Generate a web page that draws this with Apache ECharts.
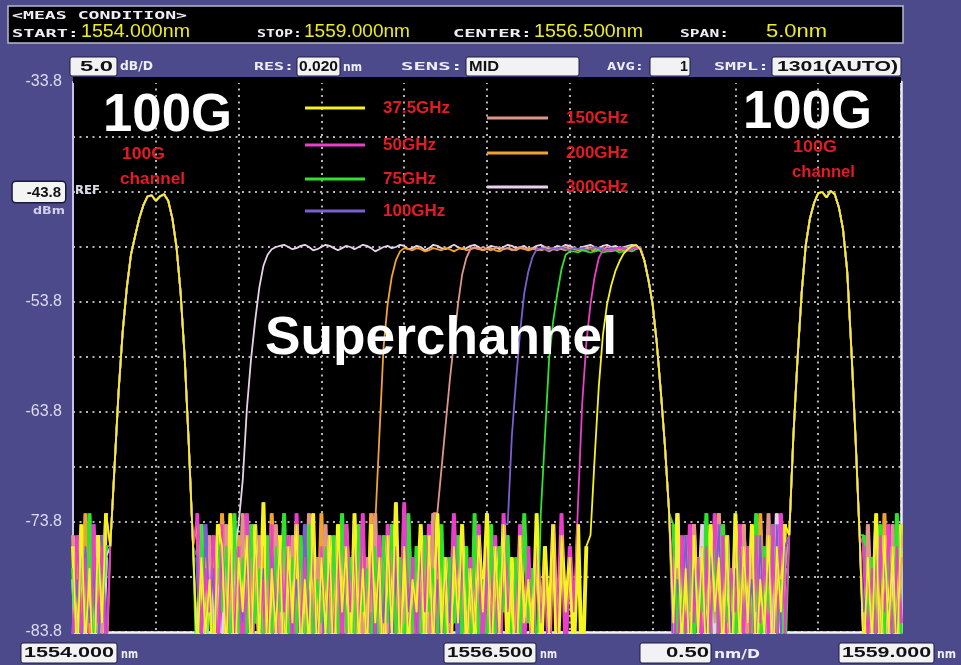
<!DOCTYPE html>
<html><head><meta charset="utf-8">
<script src="https://cdn.jsdelivr.net/npm/echarts@6/dist/echarts.min.js"></script>
<style>html,body{margin:0;padding:0;background:#4d4a8b;}#c{width:961px;height:665px;}</style>
</head><body><div id="c"></div>
<script>
// ---- instrument settings ----
const START_NM = 1554.0, STOP_NM = 1559.0, STEP_NM = 0.025;
const Y_MIN = -83.8, Y_MAX = -33.8, Y_DIV = 5, X_DIV = 0.5;
const Y_TICK_LABELS = ['-83.8','','-73.8','','-63.8','','-53.8','','-43.8','','-33.8'];
const REF_LABEL = '-43.8';
const HEADER_TITLE = '<MEAS CONDITION>';
const HEADER_LABELS = ['START:','STOP:','CENTER:','SPAN:'];
const HEADER_VALUES = ['1554.000nm','1559.000nm','1556.500nm','5.0nm'];
const SETTING_LABELS = ['RES:','SENS:','AVG:','SMPL:'];
const SETTING_VALUES = ['5.0','0.020','MID','1','1301(AUTO)'];
const SETTING_UNITS = ['dB/D','nm'];
const X_BOX_LABELS = ['1554.000','1556.500','0.50','1559.000'];
const X_BOX_UNITS = ['nm','nm','nm/D','nm'];

// ---- traces (drawn back to front) ----
const SERIES_NAMES  = ['300GHz','200GHz','150GHz','100GHz','75GHz','50GHz','37.5GHz'];
const SERIES_COLORS = ['#e8d2ea','#f2a22e','#e0948a','#7c5ed2','#2ee22e','#ea3ecb','#f6f41e'];

// shared 100G channels and superchannel right edge (sample index starts)
const PEAK_L_START = 9;
const PEAK_L = [-76,-69,-62,-56.5,-52.5,-49.5,-47.8,-46.2,-45.0,-44.2,-44.1,-44.6,-44.2,-44.0,-44.6,-46.2,-48.8,-53,-59,-67,-76];
const PEAK_R_START = 173;
const PEAK_R = [-75,-66,-59,-53,-48.6,-46.2,-44.8,-43.9,-43.8,-44.3,-43.7,-44.0,-45.2,-47.2,-51,-58,-66,-75];
const EDGE_R_START = 138;
const EDGE_R = [-50.0,-51.8,-54,-57.5,-62,-67,-73];

const BAND_START = [40, 73, 88, 105, 113, 122, 125];
const BAND_300 = [-74,-70,-63.5,-59,-55.5,-52.5,-50.5,-49.5,-49.0,-48.8,
-48.7,-48.6,-48.8,-49.0,-48.9,-48.7,-48.6,-48.8,-49.1,-49.0,
-48.8,-48.6,-48.7,-48.9,-49.1,-48.9,-48.7,-48.8,-49.0,-48.8,
-48.6,-48.7,-48.9,-49.2,-49.0,-48.8,-48.7,-48.9,-48.8,-48.6,
-48.7,-49.0,-48.9,-48.7,-48.8,-49.1,-48.9,-48.6,-48.7,-48.9,
-49.0,-48.8,-48.6,-48.8,-49.0,-48.9,-48.7,-48.6,-48.8,-49.1,
-48.9,-48.7,-48.8,-49.0,-48.8,-48.6,-48.7,-48.9,-48.8,-48.7,
-49.0,-48.9,-48.7,-48.6,-48.8,-49.0,-48.9,-48.7,-48.8,-48.6,
-48.7,-48.9,-49.0,-48.8,-48.7,-48.6,-48.8,-48.9,-48.7,-48.6,
-48.8,-48.7,-48.9,-48.8,-48.7,-48.6,-48.7,-48.9];
const BAND_200 = [-74,-66,-58,-54,-51.5,-50,-49.2,-48.9,
-49.0,-49.1,-48.9,-49.0,-49.2,-49.1,-48.9,-49.0,-49.1,-48.9,
-49.0,-49.2,-49.0,-48.9,-49.1,-49.0,-48.8,-49.0,-49.1,-49.0,
-48.9,-49.1,-49.2,-49.0,-48.9,-49.0,-49.1,-48.9,-49.0,-49.1,
-49.0,-48.9,-49.1,-49.0,-49.2,-49.0,-48.9,-49.0,-49.1,-48.9,
-49.0,-49.1,-49.0,-48.9,-49.0,-49.2,-49.0,-48.9,-49.1,-49.0,
-48.9,-49.0,-49.1,-49.0,-48.9,-48.8,-48.8];
const BAND_150 = [-73,-69,-65,-61,-57.5,-54,-51.3,-49.8,-49.0,
-48.9,-49.0,-48.8,-49.0,-49.1,-48.9,-48.8,-49.0,-48.9,-49.1,
-49.0,-48.8,-48.9,-49.0,-48.9,-49.1,-49.0,-48.8,-48.9,-49.0,
-49.1,-48.9,-48.8,-49.0,-48.9,-49.0,-49.1,-48.9,-48.8,-49.0,
-48.9,-49.0,-48.8,-48.9,-49.0,-49.1,-48.9,-48.8,-48.9,-48.8,
-48.8];
const BAND_100 = [-74,-66,-61,-56.5,-53,-51,-49.7,-49.0,
-48.9,-49.0,-49.1,-48.9,-49.0,-48.8,-49.0,-49.1,-48.9,-49.0,
-48.9,-49.1,-49.0,-48.8,-48.9,-49.0,-49.1,-48.9,-49.0,-48.8,
-48.9,-49.0,-48.9,-48.8,-48.8];
const BAND_75 = [-73,-66,-59,-55.5,-53,-50.8,-49.5,-49.2,
-49.2,-49.3,-49.1,-49.2,-49.3,-49.2,-49.1,-49.3,-49.2,-49.2,-49.1,-49.3,-49.2,-49.1,-49.2,-49.0,-48.9];
const BAND_50 = [-72,-63,-57.5,-54,-51.5,-49.8,-49.1,
-49.0,-49.1,-49.0,-48.9,-49.0,-49.1,-49.0,-48.9,-48.9];
const BAND_375 = [-75,-68,-61.5,-56.8,-54,-52.3,-51,-50.1,-49.4,-49.0,-48.7,-48.6,-49.0];

// noise floor samples outside each trace's passbands (read in order along wavelength)
const NOISE_300 = [-79,-86,-76,-89,-78,-84,-75,-87,-77,-85,
-74,-88,-76,-83,-78,-86,-75,-90,-77,-84,
-73,-87,-76,-85,-79,-82,-74,-88,-77,-86,
-75,-84,-78,-87,-76,-83,-74,-89,-77,-85,
-75,-86,-78,-84,-73,-88,-76,-85,-77,-83,
-74,-87,-76,-86,-78,-84,-75,-88];
const NOISE_200 = [-87,-76,-84,-73,-86,-78,-83,-75,-89,-74,
-85,-77,-82,-76,-88,-73,-84,-79,-86,-75,
-83,-74,-87,-77,-85,-76,-90,-73,-84,-78,
-82,-75,-88,-74,-86,-77,-83,-76,-87,-73,
-85,-79,-84,-75,-89,-74,-82,-77,-86,-76,
-88,-73,-83,-78,-85,-75,-87,-74,-84,-76,
-90,-77,-82,-73,-86,-75,-88,-78,-83,-74,
-85,-76,-87,-73,-84,-77,-89,-75,-82,-74,
-86,-78,-83,-76,-88,-73,-85,-75,-84,-77,
-87];
const NOISE_150 = [-75,-86,-78,-83,-74,-88,-76,-85,-73,-87,
-77,-84,-75,-89,-78,-82,-74,-86,-76,-85,
-73,-88,-77,-83,-75,-87,-79,-84,-74,-86,
-76,-90,-75,-82,-78,-85,-73,-88,-77,-84,
-74,-86,-76,-83,-75,-87,-78,-85,-74,-89,
-77,-82,-73,-86,-76,-84,-75,-88,-79,-83,
-74,-87,-77,-85,-76,-90,-73,-84,-78,-86,
-75,-82,-74,-88,-77,-85,-76,-83,-73,-87,
-78,-84,-75,-86,-74,-89,-77,-82,-76,-85,
-73,-88,-75,-84,-78,-86,-74,-83,-77,-87,
-76,-85,-74,-88,-75,-83];
const NOISE_100 = [-84,-79,-87,-76,-83,-78,-89,-75,-85,-77,
-86,-74,-82,-78,-88,-76,-84,-75,-87,-79,
-83,-77,-90,-74,-85,-78,-86,-76,-82,-75,
-88,-77,-84,-79,-87,-74,-83,-76,-85,-78,
-89,-75,-86,-77,-82,-76,-88,-74,-84,-79,
-85,-76,-87,-78,-83,-75,-90,-77,-86,-74,
-82,-78,-85,-76,-88,-75,-84,-79,-87,-77,
-83,-74,-86,-76,-89,-78,-85,-75,-82,-77,
-88,-76,-84,-74,-87,-79,-83,-75,-86,-78,
-90,-76,-85,-77,-82,-74,-88,-75,-84,-78,
-86,-76,-83,-79,-87,-75,-85,-77,-89,-74,
-84,-76,-82,-78,-86,-75,-88,-77,-83,-76,
-85,-74,-87];
const NOISE_75 = [-78,-88,-75,-84,-73,-86,-77,-83,-76,-90,
-74,-85,-79,-87,-75,-82,-76,-88,-73,-84,
-77,-86,-74,-83,-78,-89,-75,-85,-76,-82,
-73,-87,-77,-84,-75,-88,-74,-86,-79,-83,
-76,-90,-75,-85,-73,-84,-77,-87,-74,-82,
-78,-86,-76,-88,-75,-83,-74,-85,-77,-89,
-73,-84,-76,-87,-75,-82,-78,-86,-74,-88,
-77,-83,-75,-85,-76,-90,-73,-84,-79,-87,
-74,-86,-76,-82,-75,-88,-77,-85,-73,-83,
-78,-87,-74,-84,-76,-89,-75,-86,-77,-82,
-73,-85,-76,-88,-74,-83,-78,-87,-75,-84,
-77,-86,-73,-90,-76,-82,-74,-85,-79,-88,
-75,-83,-77,-86,-74,-84,-76,-87,-73,-85,
-78];
const NOISE_50 = [-86,-75,-84,-77,-89,-74,-83,-76,-87,-73,
-85,-78,-82,-75,-88,-74,-86,-77,-84,-76,
-90,-73,-85,-75,-83,-79,-87,-74,-86,-76,
-82,-75,-88,-73,-84,-77,-85,-74,-89,-76,
-83,-78,-86,-75,-87,-74,-82,-76,-85,-73,
-88,-77,-84,-75,-90,-74,-83,-76,-86,-72,
-85,-77,-87,-75,-82,-74,-89,-76,-84,-78,
-86,-73,-83,-75,-88,-77,-85,-74,-87,-76,
-84,-75,-90,-73,-82,-78,-86,-74,-85,-76,
-88,-75,-83,-77,-87,-74,-84,-73,-86,-76,
-82,-79,-89,-75,-85,-74,-83,-77,-88,-76,
-84,-73,-86,-75,-87,-78,-82,-74,-85,-76,
-90,-75,-83,-77,-86,-74,-88,-73,-84,-76,
-85,-78,-87,-75,-82,-74,-89,-76,-83,-77];
const NOISE_375 = [-76,-87,-74,-85,-78,-90,-75,-83,-73,-86,
-77,-84,-79,-88,-74,-76,-86,-73,-89,-77,
-82,-75,-87,-74,-85,-72,-88,-78,-84,-75,
-90,-76,-83,-74,-86,-79,-85,-73,-87,-77,
-84,-75,-89,-74,-82,-76,-88,-73,-85,-78,
-86,-74,-83,-77,-90,-75,-84,-72,-87,-76,
-85,-79,-82,-74,-88,-75,-86,-73,-84,-77,
-89,-76,-83,-74,-87,-78,-85,-75,-82,-73,
-88,-76,-84,-74,-86,-77,-90,-75,-83,-79,
-85,-73,-87,-76,-84,-74,-88,-75,-82,-77,
-86,-74,-89,-76,-83,-73,-85,-78,-87,-75,
-84,-76,-88,-74,-82,-77,-86,-75,-90,-73,
-85,-76,-83,-74,-87,-79,-84,-75,-88,-76,
-82,-74,-86,-77,-85,-73,-89,-75,-84,-76,
-87,-74,-83];

const BANDS  = [BAND_300, BAND_200, BAND_150, BAND_100, BAND_75, BAND_50, BAND_375];
const NOISES = [NOISE_300, NOISE_200, NOISE_150, NOISE_100, NOISE_75, NOISE_50, NOISE_375];

// assemble one trace: full line data, and the same samples restricted to the noise floor
function buildTrace(bandStart, band, noise) {
  const n = Math.round((STOP_NM - START_NM) / STEP_NM) + 1;
  const line = [], floor = []; let k = 0;
  for (let i = 0; i < n; i++) {
    const x = +(START_NM + i * STEP_NM).toFixed(3);
    let v, isNoise = false;
    if (i >= PEAK_L_START && i < PEAK_L_START + PEAK_L.length) v = PEAK_L[i - PEAK_L_START];
    else if (i >= PEAK_R_START && i < PEAK_R_START + PEAK_R.length) v = PEAK_R[i - PEAK_R_START];
    else if (i >= bandStart && i < bandStart + band.length) v = band[i - bandStart];
    else if (i >= EDGE_R_START && i < EDGE_R_START + EDGE_R.length) v = EDGE_R[i - EDGE_R_START];
    else { v = noise[k++]; isNoise = true; }
    if (v === undefined) v = null;
    line.push([x, v]);
    floor.push([x, isNoise ? v : null]);
  }
  return { line: line, floor: floor };
}

// ---- layout helpers ----
const mctx = document.createElement('canvas').getContext('2d');
function fitText(text, x1, x2, yc, font, color, z) {
  mctx.font = font;
  const w = mctx.measureText(text).width || 1;
  return { type: 'text', x: x1, y: yc, scaleX: (x2 - x1) / w, z: z || 100, silent: true,
    style: { text: text, font: font, fill: color, align: 'left', verticalAlign: 'middle' } };
}
function box(x, y, w, h) {
  return { type: 'rect', z: 90, silent: true, shape: { x: x, y: y, width: w, height: h, r: 2 },
    style: { fill: '#f2f2f4', stroke: '#1c1c3a', lineWidth: 1 } };
}
const WHITE = '#eeeef6', YEL = '#ecec22', BLK = '#111', RED = '#e41b23';
const LBL = 'bold 11px DejaVu Sans Mono', NUM = '18px Liberation Sans', BOXF = 'bold 15px Liberation Sans';

const G = [];
// header band
G.push({ type: 'rect', z: 80, silent: true, shape: { x: 8, y: 6, width: 895, height: 37 }, style: { fill: '#000', stroke: '#b8b8d2', lineWidth: 1.5 } });
G.push(fitText(HEADER_TITLE, 12, 187, 16, LBL, WHITE));
const HL = [[12,79],[257,302],[453,532],[680,729]];
const HV = [[81,190],[304,410],[534,643],[766,827]];
HEADER_LABELS.forEach((t, i) => G.push(fitText(t, HL[i][0], HL[i][1], 34, LBL, WHITE)));
HEADER_VALUES.forEach((t, i) => G.push(fitText(t, HV[i][0], HV[i][1], 32, NUM, YEL)));
// settings row
const SB = [[70,47],[297,43],[466,113],[650,40],[772,129]];
const ST = [[80,113],[299,338],[469,499],[680,688],[777,898]];
SB.forEach((b) => G.push(box(b[0], 57, b[1], 19)));
SETTING_VALUES.forEach((t, i) => G.push(fitText(t, ST[i][0], ST[i][1], 67, BOXF, BLK, 95)));
const SL = [[254,294],[401,463],[607,644],[714,769]];
SETTING_LABELS.forEach((t, i) => G.push(fitText(t, SL[i][0], SL[i][1], 67, LBL, WHITE)));
G.push(fitText(SETTING_UNITS[0], 120, 153, 67, 'bold 12px DejaVu Sans', WHITE));
G.push(fitText(SETTING_UNITS[1], 343, 362, 68, 'bold 12px DejaVu Sans', WHITE));
// bottom readouts
const XB = [[21,96],[444,92],[640,71],[839,95]];
const XT = [[24,114],[447,533],[666,709],[842,931]];
const XU = [[121,138],[540,557],[714,760],[937,956]];
XB.forEach((b) => G.push(box(b[0], 643, b[1], 20)));
X_BOX_LABELS.forEach((t, i) => G.push(fitText(t, XT[i][0], XT[i][1], 653, BOXF, BLK, 95)));
X_BOX_UNITS.forEach((t, i) => G.push(fitText(t, XU[i][0], XU[i][1], 655, 'bold 12px DejaVu Sans', WHITE)));
// reference level captions
G.push(fitText('REF', 75, 100, 191, 'bold 12px DejaVu Sans', '#dcdce6'));
G.push(fitText('dBm', 33, 65, 211, 'bold 11px DejaVu Sans', '#d0d0ec'));
// extend plot black to top edge
G.push({ type: 'rect', z: 1, silent: true, shape: { x: 73, y: 77, width: 828, height: 6 }, style: { fill: '#000' } });
// annotations
G.push(fitText('100G', 103, 232, 116, 'bold 53px Liberation Sans', '#ffffff'));
G.push(fitText('100G', 743, 872, 113, 'bold 53px Liberation Sans', '#ffffff'));
G.push(fitText('Superchannel', 265, 617, 339, 'bold 54px Liberation Sans', '#ffffff'));
G.push(fitText('100G', 122, 165, 155, 'bold 16px Liberation Sans', RED));
G.push(fitText('channel', 120, 185, 180, 'bold 16px Liberation Sans', RED));
G.push(fitText('100G', 793, 837, 148, 'bold 16px Liberation Sans', RED));
G.push(fitText('channel', 792, 855, 173, 'bold 16px Liberation Sans', RED));

// legends (one per entry, two columns)
const LEG_POS = { '37.5GHz':[305,108,60], '50GHz':[305,145,60], '75GHz':[305,179,60], '100GHz':[305,211,60],
                  '150GHz':[487,118,61], '200GHz':[487,153,61], '300GHz':[487,187,61] };
const legends = Object.keys(LEG_POS).map((nm) => ({
  data: [nm], left: LEG_POS[nm][0], top: LEG_POS[nm][1] - 10, padding: 0, selectedMode: false,
  icon: 'rect', itemWidth: LEG_POS[nm][2], itemHeight: 3,
  textStyle: { color: RED, fontSize: 17, fontWeight: 'bold', fontFamily: 'Liberation Sans', lineHeight: 20, padding: [0,0,0,13] }
}));

const traces = SERIES_NAMES.map((nm, i) => buildTrace(BAND_START[i], BANDS[i], NOISES[i]));
// noise floor: the dense OSA sweep renders as thick vertical strokes, drawn beneath all trace lines
const floorSeries = SERIES_NAMES.map((nm, i) => ({
  type: 'line', name: nm + ' floor', data: traces[i].floor, connectNulls: false,
  color: SERIES_COLORS[i], showSymbol: false, symbol: 'none', silent: true, animation: false,
  lineStyle: { width: 3.9, color: SERIES_COLORS[i], join: 'bevel' }, z: 2, clip: true
}));
const lineSeries = SERIES_NAMES.map((nm, i) => ({
  type: 'line', name: nm, data: traces[i].line,
  color: SERIES_COLORS[i], showSymbol: false, symbol: 'none', silent: true, animation: false,
  lineStyle: { width: 1.8, color: SERIES_COLORS[i] }, z: 3, clip: true
}));

const dotted = { show: true, lineStyle: { color: '#b4b4b4', width: 2, type: [2, 4.5] } };
const option = {
  backgroundColor: '#4d4a8b',
  animation: false,
  grid: { left: 73, top: 82, width: 828, height: 550, show: true, backgroundColor: '#000', borderWidth: 0 },
  xAxis: { type: 'value', min: START_NM, max: STOP_NM, interval: X_DIV,
    axisLine: { show: true, onZero: false, lineStyle: { color: '#f2f2f6', width: 2.5 } },
    axisTick: { show: false }, axisLabel: { show: false }, splitLine: dotted },
  yAxis: [{ type: 'value', min: Y_MIN, max: Y_MAX, interval: Y_DIV,
    axisLine: { show: true, onZero: false, lineStyle: { color: '#c8c2e4', width: 2 } },
    axisTick: { show: false }, splitLine: dotted,
    axisLabel: { show: true, margin: 8, interval: 0, showMinLabel: true, showMaxLabel: true,
      formatter: function (v, idx) { const t = Y_TICK_LABELS[idx] || ''; if (!t) return ''; return t === REF_LABEL ? '{ref|' + t + '}' : '{n|' + t + '}'; },
      rich: {
        n: { color: '#dcdcf0', fontSize: 16, fontFamily: 'Liberation Sans', padding: [0, 3, 0, 0] },
        ref: { color: '#111', backgroundColor: '#f4f4f4', borderColor: '#1a1a3a', borderWidth: 1.5, borderRadius: 3,
               fontSize: 15, fontWeight: 'bold', fontFamily: 'Liberation Sans', padding: [3, 4, 2, 14] }
      } } },
    { type: 'value', position: 'right', min: Y_MIN, max: Y_MAX, interval: Y_DIV,
      axisLine: { show: true, onZero: false, lineStyle: { color: '#ececf4', width: 2.5 } },
      axisTick: { show: false }, axisLabel: { show: false }, splitLine: { show: false } }],
  legend: legends,
  graphic: G,
  series: floorSeries.concat(lineSeries)
};
const chart = echarts.init(document.getElementById('c'), null, { renderer: 'canvas', width: 961, height: 665 });
chart.setOption(option);
</script></body></html>
